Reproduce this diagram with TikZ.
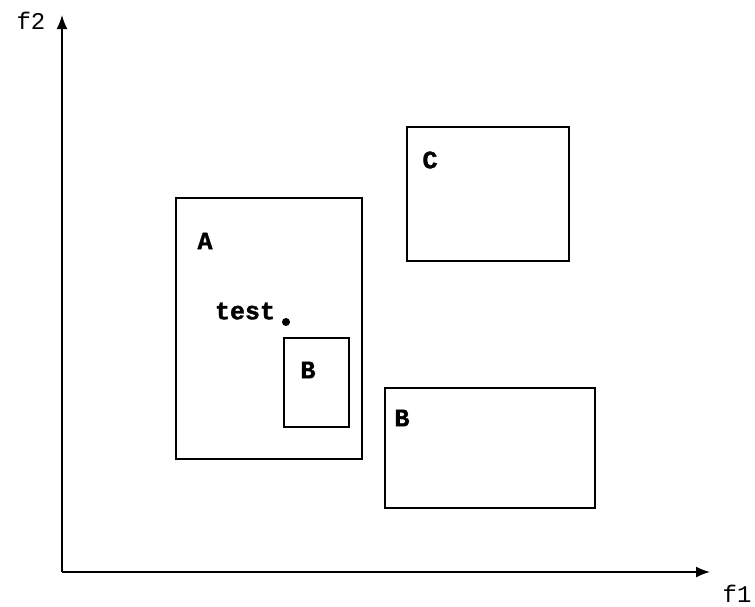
\documentclass[tikz,border=0pt]{standalone}
\usepackage{fontspec}
\setmonofont{Liberation Mono}
\newfontfamily\heavymono[FakeBold=1.5]{Liberation Mono Bold}
\usetikzlibrary{arrows.meta}
\begin{document}
\begin{tikzpicture}[x=1pt,y=-1pt,
  box/.style={draw,line width=1.6pt},
  lbl/.style={font=\heavymono\fontsize{25}{25}\selectfont,inner sep=0pt},
  axlbl/.style={font=\ttfamily\fontsize{24}{24}\selectfont,inner sep=0pt},
  axis/.style={line width=1.6pt,-{Latex[length=14pt,width=11pt]}}]
\useasboundingbox (0,0) rectangle (755,606);
\coordinate (O) at (62,572);
\coordinate (Ytip) at (62,15);
\coordinate (Xtip) at (710,572);
\draw[axis] (O) -- (Ytip);
\draw[axis] (O) -- (Xtip);
\node[axlbl] (f2) at (31,21) {f2};
\node[axlbl] (f1) at (737,594) {f1};
% boxes
\draw[box] (176,198) rectangle (362,459);
\node[lbl] (la) at (205,241) {A};
\node[lbl] (lt) at (245,311) {test};
\fill (286,322) circle (4);
\draw[box] (284,338) rectangle (349,427);
\node[lbl] (lb1) at (308,370) {B};
\draw[box] (407,127) rectangle (569,261);
\node[lbl] (lc) at (430,160) {C};
\draw[box] (385,388) rectangle (595,508);
\node[lbl] (lb2) at (402,418) {B};
\end{tikzpicture}
\end{document}
